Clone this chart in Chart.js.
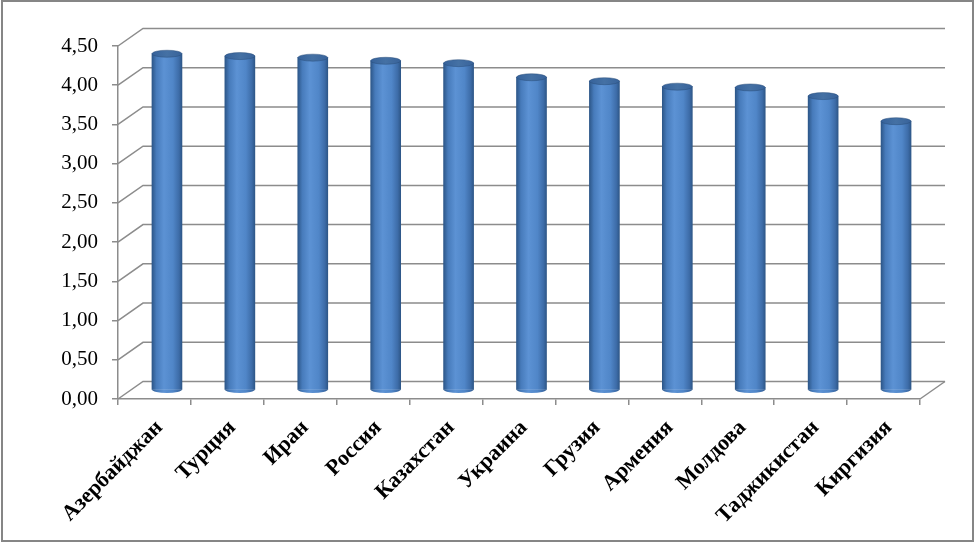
<!DOCTYPE html>
<html lang="ru">

<head>
    <meta charset="UTF-8">
    <title>Chart</title>
    <style>
        html, body { margin: 0; padding: 0; background: #fff; }
        #wrap { width: 976px; height: 542px; }
    </style>
</head>

<body>
    <div id="wrap">
        <canvas id="myChart" width="976" height="542"></canvas>
    </div>

    <script src="https://cdn.jsdelivr.net/npm/chart.js"></script>

    <script>
        // данные
        const labels = ['Азербайджан', 'Турция', 'Иран', 'Россия', 'Казахстан', 'Украина',
            'Грузия', 'Армения', 'Молдова', 'Таджикистан', 'Киргизия'];
        const values = [4.29, 4.26, 4.24, 4.20, 4.17, 3.99, 3.94, 3.87, 3.86, 3.75, 3.43];
        const yTicks = [0, 0.5, 1, 1.5, 2, 2.5, 3, 3.5, 4, 4.5];

        // 3D сдвиг: задняя стенка и середина столбцов
        const DEPTH_X = 25, DEPTH_Y = -17.5;
        const BAR_W = 30, CAP_RY = 3.5;

        function barGradient(ctx, x) {
            let g = ctx.createLinearGradient(x - BAR_W / 2, 0, x + BAR_W / 2, 0);
            g.addColorStop(0, '#2d5789');
            g.addColorStop(0.15, '#477bbb');
            g.addColorStop(0.4, '#5c92d4');
            g.addColorStop(0.7, '#5086c8');
            g.addColorStop(0.9, '#3d6ca8');
            g.addColorStop(1, '#2e5788');
            return g;
        }

        const plugin3d = {
            id: 'plugin3d',
            beforeDraw(chart) {
                const c = chart.ctx;
                c.save();
                c.fillStyle = '#fff';
                c.fillRect(0, 0, chart.width, chart.height);
                c.strokeStyle = '#868686';
                c.lineWidth = 2;
                c.strokeRect(2, 1, 971, 540);
                c.restore();
            },
            beforeDatasetsDraw(chart) {
                const c = chart.ctx;
                const a = chart.chartArea;
                const y = chart.scales.y;
                c.save();
                c.strokeStyle = '#8c8c8c';
                c.lineWidth = 1.5;
                yTicks.forEach(function(v) {
                    let py = y.getPixelForValue(v);
                    c.beginPath();
                    c.moveTo(a.left, py);
                    c.lineTo(a.left + DEPTH_X, py + DEPTH_Y);
                    c.lineTo(a.right + DEPTH_X, py + DEPTH_Y);
                    c.stroke();
                });
                // правый край пола
                c.beginPath();
                c.moveTo(a.right, a.bottom);
                c.lineTo(a.right + DEPTH_X, a.bottom + DEPTH_Y);
                c.stroke();
                c.restore();

                // столбцы стоят посередине глубины
                c.save();
                c.translate(DEPTH_X / 2, DEPTH_Y / 2);
            },
            afterDatasetsDraw(chart) {
                const c = chart.ctx;
                const meta = chart.getDatasetMeta(0);
                meta.data.forEach(function(el) {
                    // нижний полуэллипс
                    c.beginPath();
                    c.ellipse(el.x, el.base, BAR_W / 2, CAP_RY, 0, 0, Math.PI);
                    c.fillStyle = barGradient(c, el.x);
                    c.fill();
                    // верхняя крышка
                    c.beginPath();
                    c.ellipse(el.x, el.y, BAR_W / 2, CAP_RY, 0, 0, Math.PI * 2);
                    let g = c.createLinearGradient(el.x - BAR_W / 2, 0, el.x + BAR_W / 2, 0);
                    g.addColorStop(0, '#36629b');
                    g.addColorStop(0.5, '#4571a4');
                    g.addColorStop(1, '#38639b');
                    c.fillStyle = g;
                    c.fill();
                    c.strokeStyle = 'rgba(40,75,120,0.6)';
                    c.lineWidth = 0.8;
                    c.stroke();
                });
                c.restore();
            }
        };

        const ctx = document.getElementById('myChart');

        let chart = new Chart(ctx, {
            type: 'bar',
            data: {
                labels: labels,
                datasets: [{
                    data: values,
                    barThickness: BAR_W,
                    borderWidth: 0,
                    clip: false,
                    backgroundColor: function(c) {
                        const ch = c.chart;
                        if (!ch.chartArea || c.dataIndex === undefined) return '#4f81bd';
                        const x = ch.scales.x.getPixelForValue(c.dataIndex);
                        return barGradient(ch.ctx, x);
                    }
                }]
            },
            plugins: [plugin3d],
            options: {
                responsive: false,
                animation: false,
                layout: {
                    padding: { left: 0, right: 56, top: 46, bottom: 0 }
                },
                plugins: {
                    legend: { display: false },
                    tooltip: { enabled: false }
                },
                scales: {
                    x: {
                        grid: {
                            drawOnChartArea: false,
                            drawTicks: true,
                            tickLength: 6,
                            color: '#8c8c8c',
                            lineWidth: 1.5
                        },
                        border: { display: true, color: '#8c8c8c', width: 1.5 },
                        ticks: {
                            minRotation: 45,
                            maxRotation: 45,
                            autoSkip: false,
                            color: '#000',
                            padding: 10,
                            labelOffset: 5,
                            font: { family: 'Liberation Serif', size: 22, weight: 'bold' }
                        },
                        afterFit: function(scale) { scale.height = 143; }
                    },
                    y: {
                        min: 0,
                        max: 4.5,
                        afterBuildTicks: function(scale) {
                            scale.ticks = yTicks.map(function(v) { return { value: v }; });
                        },
                        grid: {
                            drawOnChartArea: false,
                            drawTicks: true,
                            tickLength: 6,
                            color: '#8c8c8c',
                            lineWidth: 1.5
                        },
                        border: { display: true, color: '#8c8c8c', width: 1.5 },
                        ticks: {
                            color: '#000',
                            padding: 14,
                            font: { family: 'Liberation Serif', size: 21 },
                            callback: function(v) { return Number(v).toFixed(2).replace('.', ','); }
                        },
                        afterFit: function(scale) { scale.width = 118; }
                    }
                }
            }
        });
    </script>
</body>

</html>
